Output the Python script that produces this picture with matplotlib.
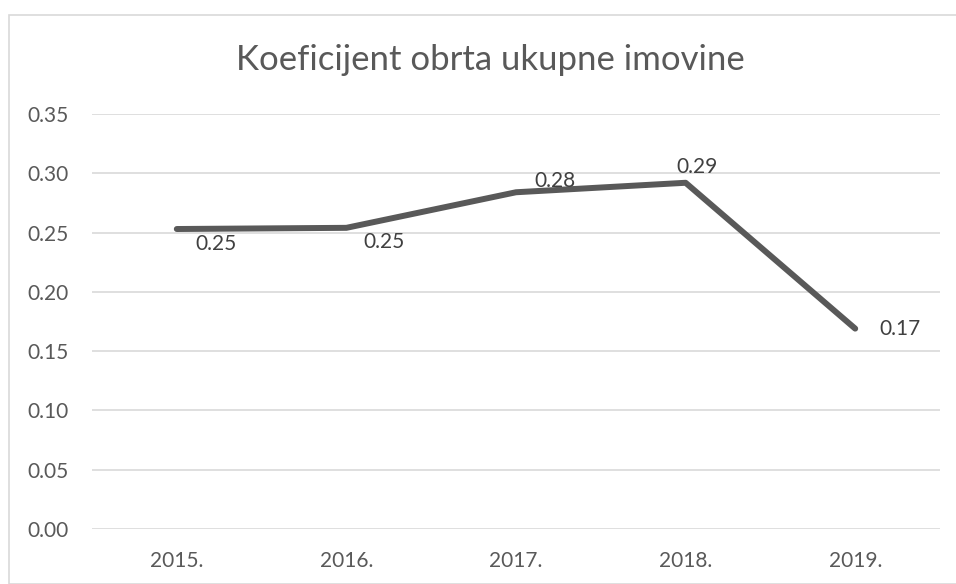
import matplotlib
matplotlib.use("Agg")
import matplotlib.pyplot as plt
from matplotlib.patches import Rectangle

# data
years = ["2015.", "2016.", "2017.", "2018.", "2019."]
values = [0.253, 0.254, 0.284, 0.292, 0.169]
yticks = [0.00, 0.05, 0.10, 0.15, 0.20, 0.25, 0.30, 0.35]
title = "Koeficijent obrta ukupne imovine"

# label offsets (points) for each data label
label_offsets = [(28, -11), (27, -10), (28, 8), (8, 11), (32, 0)]

plt.rcParams["font.family"] = ["Lato", "DejaVu Sans"]
W, H = 956, 584
fig = plt.figure(figsize=(W / 100, H / 100), dpi=100)

# chart border
fig.patches.append(Rectangle((9 / W, 0), 1.2, (H - 15) / H, transform=fig.transFigure,
                             fill=False, edgecolor="#D9D9D9", linewidth=1.2))

ax = fig.add_axes([92 / W, 55 / H, (940 - 92) / W, (529 - 114) / H])
x = list(range(len(years)))
ax.plot(x, values, color="#595959", linewidth=4.3, solid_capstyle="round",
        solid_joinstyle="round", zorder=3)

for xi, v, off in zip(x, values, label_offsets):
    ax.annotate(f"{v:.2f}", (xi, v), xytext=off, textcoords="offset points",
                ha="center", va="center", fontsize=15, color="#404040", zorder=4)

ax.set_xlim(-0.5, len(years) - 0.5)
ax.set_ylim(0, 0.35)
ax.set_yticks(yticks)
ax.set_yticklabels([f"{t:.2f}" for t in yticks])
ax.set_xticks(x)
ax.set_xticklabels(years)
ax.grid(axis="y", color="#D9D9D9", linewidth=1.2)
ax.set_axisbelow(True)
for s in ax.spines.values():
    s.set_visible(False)
ax.tick_params(axis="both", length=0, labelsize=15, colors="#595959")
ax.tick_params(axis="y", pad=17)
ax.tick_params(axis="x", pad=16)

fig.text(490 / W, 1 - 60 / H, title, ha="center", va="center",
         fontsize=25, color="#595959")

fig.savefig("out.png", dpi=100)
